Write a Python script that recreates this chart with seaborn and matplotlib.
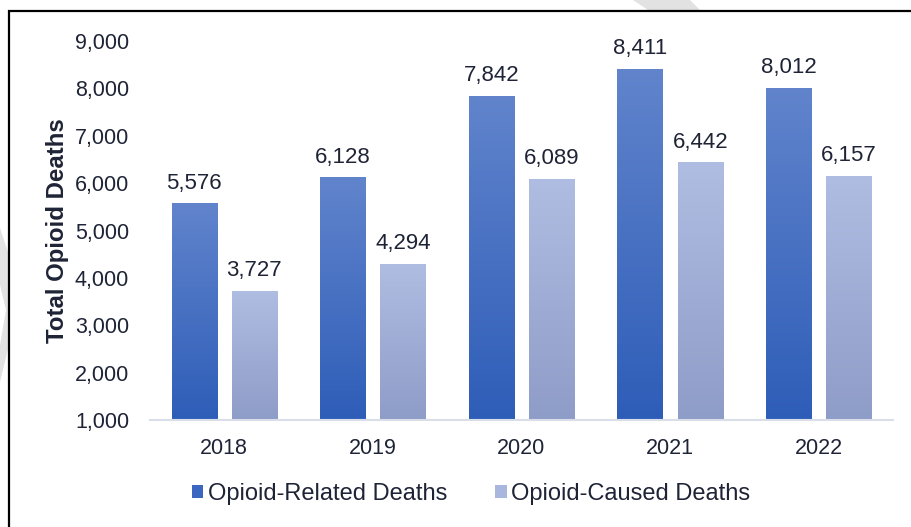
import numpy as np
import pandas as pd
import matplotlib
matplotlib.use("Agg")
import matplotlib.pyplot as plt
import seaborn as sns
from matplotlib.colors import LinearSegmentedColormap
from matplotlib.patches import Rectangle, Polygon
import matplotlib.patheffects as pe

years = ["2018", "2019", "2020", "2021", "2022"]
related = [5576, 6128, 7842, 8411, 8012]
caused = [3727, 4294, 6089, 6442, 6157]
series_names = ["Opioid-Related Deaths", "Opioid-Caused Deaths"]
yticks = [1000, 2000, 3000, 4000, 5000, 6000, 7000, 8000, 9000]

df = pd.DataFrame({
    "Year": years * 2,
    "Deaths": related + caused,
    "Series": [series_names[0]] * len(years) + [series_names[1]] * len(years),
})

sns.set_theme(style="white")
plt.rcParams["font.family"] = ["Liberation Sans", "DejaVu Sans"]
TXT = "#1e2436"

fig = plt.figure(figsize=(9.12, 5.27), dpi=100)
W, H = 912, 527

# watermark fragments + chart border box
def px(pts):
    return [(x / W, 1 - y / H) for x, y in pts]
fig.patches.append(Polygon(px([(633, 0), (690, 0), (700, 10), (648, 10)]), closed=True,
                           transform=fig.transFigure, facecolor="#e2e2e2", edgecolor="none", zorder=0))
fig.patches.append(Polygon(px([(0, 228), (9, 255), (9, 345), (0, 382), (0, 345), (6, 310), (0, 285)]), closed=True,
                           transform=fig.transFigure, facecolor="#e2e2e2", edgecolor="none", zorder=0))
fig.patches.append(Rectangle((9.5 / W, -0.1), 1.2, 1 - 10.5 / H + 0.1, transform=fig.transFigure,
                             facecolor="white", edgecolor="black", linewidth=1.6, zorder=1))

ax = fig.add_axes([150 / W, 1 - 420 / H, (893 - 150) / W, (420 - 41) / H])
ax.set_facecolor("none")
ax.set_zorder(2)

top_cols = ["#6184cc", "#b0bde2"]
bot_cols = ["#2e5db8", "#8e9cc8"]
legend_cols = ["#3c67c0", "#a9b6dd"]

sns.barplot(data=df, x="Year", y="Deaths", hue="Series", hue_order=series_names,
            palette=legend_cols, width=0.81, gap=0.25, ax=ax, legend=False,
            saturation=1, errorbar=None)

ax.set_ylim(1000, 9000)
ax.set_yticks(yticks)
ax.set_yticklabels([f"{v:,}" for v in yticks])
ax.set_xlim(-0.5, 4.5)

# gradients + labels
n = len(years)
for i, patch in enumerate(ax.patches[: 2 * n]):
    s = i // n
    x0 = patch.get_x()
    w = patch.get_width()
    h = patch.get_height()
    cmap = LinearSegmentedColormap.from_list(f"g{i}", [bot_cols[s], top_cols[s]])
    grad = np.linspace(0, 1, 256).reshape(-1, 1)
    patch.set_path_effects([pe.SimplePatchShadow(offset=(0, 0), shadow_rgbFace="#000000", alpha=0.12, rho=1),
                            pe.Normal()])
    patch.set_edgecolor("none")
    im = ax.imshow(grad, extent=(x0, x0 + w, 1000, h), origin="lower", aspect="auto",
                   cmap=cmap, zorder=patch.get_zorder() + 0.1, interpolation="bilinear")
    im.set_clip_path(patch)
    ax.text(x0 + w / 2, h + 200, f"{int(h):,}", ha="center", va="bottom", fontsize=16, color=TXT)

ax.set_xlim(-0.5, 4.5)
ax.set_ylim(1000, 9000)

for sp in ["left", "right", "top"]:
    ax.spines[sp].set_visible(False)
ax.spines["bottom"].set_color("#d9dee8")
ax.spines["bottom"].set_linewidth(1.5)
ax.tick_params(axis="y", labelsize=15.5, labelcolor=TXT, pad=15, length=0)
ax.tick_params(axis="x", labelsize=15.5, labelcolor=TXT, pad=13, length=0)
ax.set_xlabel("")
ax.set_ylabel("Total Opioid Deaths", fontsize=17.3, fontweight="bold", color=TXT, labelpad=4)

handles = [Rectangle((0, 0), 1, 1, facecolor=c, edgecolor="none") for c in legend_cols]
fig.legend(handles, series_names, loc="center", bbox_to_anchor=(471 / W, 1 - 494 / H), ncol=2,
           frameon=False, fontsize=17, handlelength=0.5, handleheight=0.5, handletextpad=0.2,
           columnspacing=2.0, labelcolor=TXT)

fig.savefig("out.png", dpi=100)
